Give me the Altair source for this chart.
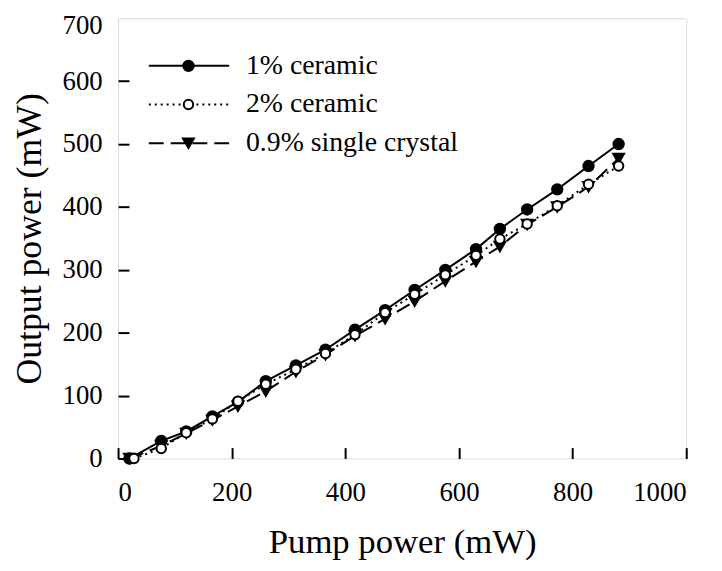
import altair as alt
import pandas as pd

# ---- data ----
series = ["1% ceramic", "2% ceramic", "0.9% single crystal"]
pump_1 = [20, 76, 120, 166, 211, 260, 313, 365, 417, 470, 522, 576, 630, 672, 720, 773, 828, 881]
out_1 = [0, 28, 43, 67, 90, 123, 148, 173, 205, 236, 268, 300, 333, 365, 396, 428, 465, 500]
pump_2 = [28, 76, 120, 166, 211, 260, 313, 365, 417, 470, 522, 576, 630, 672, 720, 773, 828, 881]
out_2 = [0, 16, 41, 63, 91, 118, 142, 167, 197, 232, 261, 292, 323, 349, 373, 402, 436, 465]
pump_3 = [20, 76, 120, 166, 211, 260, 313, 365, 417, 470, 522, 576, 630, 672, 720, 773, 828, 881]
out_3 = [0, 20, 40, 61, 83, 107, 138, 165, 195, 222, 250, 282, 313, 337, 372, 400, 432, 477]
x_ticks = [0, 200, 400, 600, 800, 1000]
y_ticks = [0, 100, 200, 300, 400, 500, 600]
y_top_tick = [700]

FONT = "Liberation Serif"
W, H = 573, 444
TICK = 11

df1 = pd.DataFrame({"pump": pump_1, "out": out_1, "s": series[0]})
df2 = pd.DataFrame({"pump": pump_2, "out": out_2, "s": series[1]})
df3 = pd.DataFrame({"pump": pump_3, "out": out_3, "s": series[2]})

xs = alt.Scale(domain=[0, 1000], nice=False, zero=False)
ys = alt.Scale(domain=[0, 700], nice=False, zero=False)

x_enc = alt.X("pump:Q", scale=xs, axis=alt.Axis(
    values=x_ticks, format="d", title="Pump power (mW)", grid=False, domain=False,
    offset=-TICK, tickSize=TICK, tickWidth=2, tickColor="black",
    labelPadding=21, labelFontSize=27, labelColor="black", labelFont=FONT,
    titleFontSize=35, titleFont=FONT, titleFontWeight="normal", titleColor="black",
    titleY=106, titleBaseline="alphabetic"))
y_enc = alt.Y("out:Q", scale=ys, axis=alt.Axis(
    values=y_ticks, format="d", title="Output power (mW)", grid=False, domain=False,
    orient="left", offset=-TICK, tickSize=TICK, tickWidth=2, tickColor="black",
    labelPadding=16, labelFontSize=27, labelColor="black", labelFont=FONT,
    titleFontSize=36, titleFont=FONT, titleFontWeight="normal", titleColor="black",
    titleX=-100, titleY=222, titleAngle=270, titleBaseline="middle", titleAlign="center"))
y_top_enc = alt.Y("out:Q", scale=ys, axis=alt.Axis(
    values=y_top_tick, format="d", title=None, grid=False, domain=False, ticks=False,
    orient="left", labelPadding=16, labelOffset=7, labelFontSize=27,
    labelColor="black", labelFont=FONT))

def line(df, dash):
    kw = dict(color="black", strokeWidth=2)
    if dash:
        kw["strokeDash"] = dash
    return alt.Chart(df).mark_line(**kw).encode(x=x_enc, y=y_enc)

l1 = line(df1, None)
l2 = line(df2, [2, 4])
l3 = line(df3, [15, 7])
p1 = alt.Chart(df1).mark_point(shape="circle", filled=True, fill="black", stroke="black", size=110, opacity=1).encode(x=x_enc, y=y_enc)
p3 = alt.Chart(df3).mark_point(shape="triangle-down", filled=True, fill="black", stroke="black", size=120, opacity=1).encode(x=x_enc, y=y_enc)
p2 = alt.Chart(df2).mark_point(shape="circle", filled=False, fill="white", stroke="black", strokeWidth=2, size=90, opacity=1).encode(x=x_enc, y=y_enc)

main = alt.layer(l1, p1, l3, p3, l2, p2)
top_label = alt.Chart(df1).mark_point(opacity=0).encode(x=x_enc, y=y_top_enc)

# ---- manual legend ----
row_y = [48, 87, 126]
dashes = [None, [2, 4], [15, 7]]
legend_layers = []
for i, lab in enumerate(series):
    ldf = pd.DataFrame({"label": [lab]})
    rkw = dict(color="black", strokeWidth=2)
    if dashes[i]:
        rkw["strokeDash"] = dashes[i]
    legend_layers.append(alt.Chart(ldf).mark_rule(**rkw).encode(
        x=alt.value(31), x2=alt.value(112), y=alt.value(row_y[i])))
    if i == 0:
        pk = dict(shape="circle", filled=True, fill="black", stroke="black", size=110, opacity=1)
    elif i == 1:
        pk = dict(shape="circle", filled=False, fill="white", stroke="black", strokeWidth=2, size=90, opacity=1)
    else:
        pk = dict(shape="triangle-down", filled=True, fill="black", stroke="black", size=120, opacity=1)
    legend_layers.append(alt.Chart(ldf).mark_point(**pk).encode(
        x=alt.value(71), y=alt.value(row_y[i])))
    legend_layers.append(alt.Chart(ldf).mark_text(
        align="left", baseline="middle", font=FONT, fontSize=28, color="black").encode(
        x=alt.value(129), y=alt.value(row_y[i]), text="label:N"))

chart = alt.layer(main, top_label, *legend_layers).resolve_axis(y="independent").properties(
    width=W, height=H,
    autosize=alt.AutoSizeParams(type="none"),
    padding={"left": 111, "top": 8, "right": 28, "bottom": 101},
).configure_view(stroke="black", strokeWidth=2).configure(font=FONT, background="white")

chart.save("out.html", embed_options={"renderer": "svg", "actions": False})
